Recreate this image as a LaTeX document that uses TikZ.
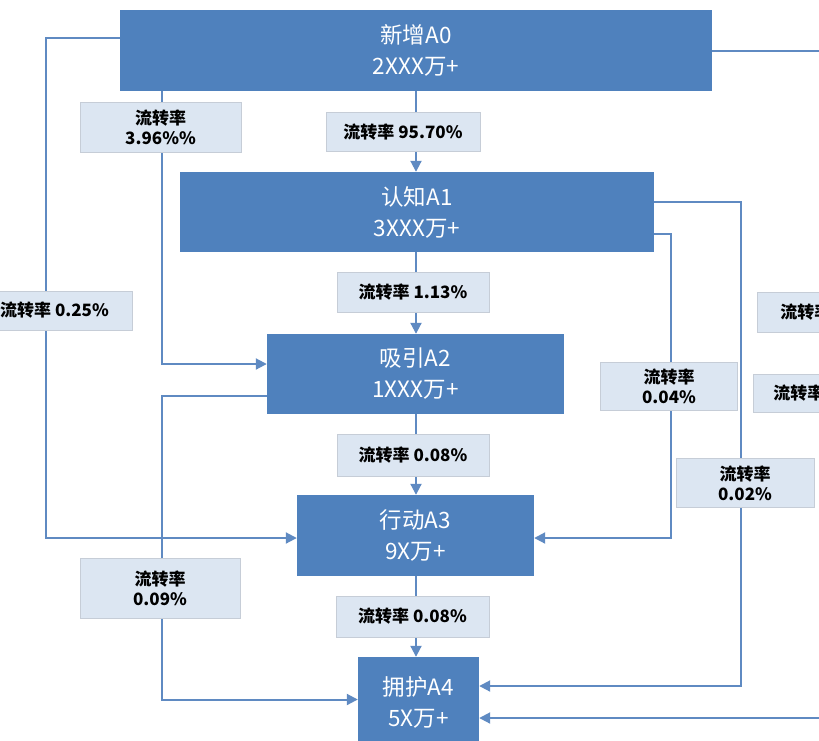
\documentclass[tikz,border=0pt]{standalone}
\usepackage{fontspec}
\setmainfont{Noto Sans CJK SC}
\usetikzlibrary{arrows.meta}
\definecolor{boxblue}{RGB}{79,129,189}
\definecolor{lineblue}{RGB}{95,138,194}
\definecolor{tagfill}{RGB}{220,230,242}
\definecolor{tagline}{RGB}{198,205,215}

\begin{document}
\begin{tikzpicture}[x=1pt, y=-1pt,
    stage/.style={fill=boxblue, text=white, align=center, inner sep=0pt,
        font=\fontsize{22.5}{31}\selectfont},
    tag/.style={fill=tagfill, draw=tagline, line width=0.8pt, align=center, inner sep=0pt,
        font=\fontsize{17}{20}\selectfont\bfseries},
    flow/.style={draw=lineblue, line width=2pt, -{Triangle[length=11pt,width=11pt]}}]
    \useasboundingbox (0,0) rectangle (819,740);

    % Stage boxes
    \node[stage, minimum width=592pt, minimum height=81pt] (A0) at (416,50.5) {新增A0\\2XXX万+};
    \node[stage, minimum width=474pt, minimum height=80pt] (A1) at (417,212) {认知A1\\3XXX万+};
    \node[stage, minimum width=297pt, minimum height=80pt] (A2) at (415.5,374) {吸引A2\\1XXX万+};
    \node[stage, minimum width=237pt, minimum height=81pt] (A3) at (415.5,535.5) {行动A3\\9X万+};
    \node[stage, minimum width=121pt, minimum height=90pt] (A4) at (418.5,702) {拥护A4\\5X万+};

    % Main chain
    \draw[flow] (A0.south) -- (A0.south |- A1.north);
    \draw[flow] (A1.south -| A0.south) -- (A0.south |- A2.north);
    \draw[flow] (A2.south -| A0.south) -- (A0.south |- A3.north);
    \draw[flow] (A3.south -| A0.south) -- (A0.south |- A4.north);

    % Left side
    \draw[flow] ([yshift=12.5pt]A0.west) -- ++(-74,0) |- ([yshift=-2.5pt]A3.west);
    \draw[flow] ([xshift=42pt]A0.south west) |- ([yshift=10pt]A2.west);
    \draw[flow] ([yshift=-22pt]A2.west) -- ++(-105,0) |- ([yshift=2.5pt]A4.west);

    % Right side
    \draw[flow] ([yshift=-22pt]A1.east) -- ++(17,0) |- ([yshift=-2.5pt]A3.east);
    \draw[flow] ([yshift=10pt]A1.east) -- ++(87,0) |- ([yshift=16pt]A4.east);
    \draw[flow] (A0.east) -- ++(123,0) |- ([yshift=-16pt]A4.east);

    % Rates
    \node[tag, minimum width=154pt, minimum height=39pt] (r957) at (403,132) {流转率 95.70\%};
    \node[tag, minimum width=161pt, minimum height=50pt] (r396) at (160.5,127) {流转率\\3.96\%\%};
    \node[tag, minimum width=152pt, minimum height=40pt] (r113) at (413,292) {流转率 1.13\%};
    \node[tag, minimum width=155pt, minimum height=39pt] (r025) at (54.5,310.5) {流转率 0.25\%};
    \node[tag, minimum width=152pt, minimum height=42pt] (r008a) at (413,455) {流转率 0.08\%};
    \node[tag, minimum width=137pt, minimum height=48pt] (r004) at (669,386) {流转率\\0.04\%};
    \node[tag, minimum width=138pt, minimum height=49pt] (r002) at (745,483) {流转率\\0.02\%};
    \node[tag, minimum width=160pt, minimum height=60pt] (r009) at (160,588) {流转率\\0.09\%};
    \node[tag, minimum width=153pt, minimum height=41pt] (r008b) at (412.5,616.5) {流转率 0.08\%};
    \node[tag, anchor=west, minimum height=40pt, text width=127pt, align=left, inner xsep=23pt] (rx1) at (757,312) {流转率};
    \node[tag, anchor=west, minimum height=38pt, text width=127pt, align=left, inner xsep=20pt] (rx2) at (753,393) {流转率};
\end{tikzpicture}
\end{document}
